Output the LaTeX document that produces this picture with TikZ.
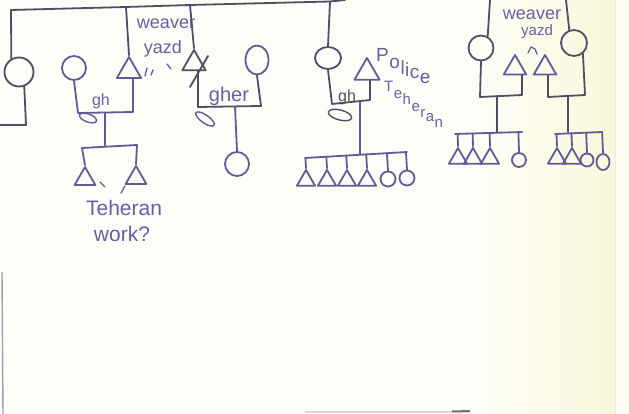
\documentclass[tikz,border=0pt]{standalone}
\usepackage{fontspec}
\setmainfont{Liberation Sans}
\usetikzlibrary{shapes.geometric,calc}
\definecolor{paper}{HTML}{FEFEF9}
\definecolor{paperY}{HTML}{FAF8DA}
\definecolor{paperR}{HTML}{FDFDF2}
\definecolor{inkg}{HTML}{4E4E66}
\definecolor{inkb}{HTML}{5D5C97}
\definecolor{txt}{HTML}{6362A0}
\begin{document}
\begin{tikzpicture}[x=1pt,y=-1pt,
  lg/.style={draw=inkg,line width=1.8pt,line join=round,line cap=round},
  lb/.style={draw=inkb,line width=1.8pt,line join=round,line cap=round},
  fem/.style={circle,inner sep=0pt,minimum size=#1},
  oval/.style 2 args={ellipse,inner sep=0pt,minimum width=#1,minimum height=#2},
  male/.style={regular polygon,regular polygon sides=3,inner sep=0pt,minimum size=#1},
  hand/.style={text=txt,inner sep=0pt},
  tick/.style={draw=inkb,line width=1.3pt,line cap=round}
]
\useasboundingbox (0,0) rectangle (629,414);
% paper
\fill[paper] (0,0) rectangle (629,414);
\shade[left color=paper,right color=paperY] (470,0) rectangle (615,414);
\fill[paperR] (615,0) rectangle (629,414);
\draw[black!8,line width=0.8pt] (615,0) -- (615,414);
\draw[inkg!55,line width=1.4pt] (2,272) -- (3,414);
\draw[black!15,line width=2pt] (305,412) -- (470,412);
\draw[black!55,line width=2pt] (452,411.5) -- (470,411);

% top line
\coordinate (tA) at (11,10);
\coordinate (tB) at (126,7);
\coordinate (tC) at (190,5);
\coordinate (tD) at (330,1.5);
\coordinate (tEnd) at (345,0);
\draw[lg] (tA) -- (tB) -- (tC) -- (tD) -- (tEnd);

% far left woman
\node[fem=29,lg] (L0) at (19,72) {};
\coordinate (l0b) at (26,125);
\coordinate (l0e) at (0,125);
\draw[lg] (tA) -- (L0.120);
\draw[lg] (L0.-70) -- (l0b) -- (l0e);

% weaver (yazd) and wife
\node[male=28,lb] (W1) at (129,71) {};
\draw[lg] (tB) -- (W1.corner 1);
\node[fem=24,lb] (F1) at (74,68) {};
\coordinate (m1L) at (78,113);
\coordinate (m1R) at (133,112);
\coordinate (m1D) at (105,112.5);
\draw[lb] (F1.south) -- (m1L) -- (m1R) -- (m1R |- W1.south);
\node[hand,font=\fontsize{16}{16}\selectfont] (gh1) at (101,101) {gh};
\draw[lb,line width=1.4pt,rotate around={-20:(88,118)}] (88,118) ellipse (9pt and 4pt);
\node[hand,font=\fontsize{18}{18}\selectfont] (wv1) at (166,24) {weaver};
\node[hand,font=\fontsize{18}{18}\selectfont] (yz1) at (163,49) {yazd};
\draw[tick] (147,68) -- (145,76);
\draw[tick] (153,70) -- (151,75);
\draw[tick] (167,64) -- (171,69);

% their children
\coordinate (s1D) at (105,146);
\draw[lb] (m1D) -- (s1D);
\coordinate (s1L) at (82,148);
\coordinate (s1R) at (137,145);
\draw[lb] (s1L) -- (s1R);
\node[male=24,lb] (C1) at (85,179) {};
\node[male=24,lb] (C2) at (136,178) {};
\draw[lb] (s1L) -- (C1.corner 1);
\draw[lb] (s1R) -- (C2.corner 1);
\draw[tick] (100,182) -- (105,187);
\draw[tick] (125,186) -- (121,193);
\node[hand,font=\fontsize{21}{21}\selectfont] (teh1) at (124,208) {Teheran};
\node[hand,font=\fontsize{21}{21}\selectfont] (work) at (122,234) {work?};

% crossed man and wife (gher)
\node[male=27,lg] (W2) at (194,63.5) {};
\draw[lg] (tC) -- (W2.corner 1);
\draw[lg] (190,87) -- (208,56);
\node[oval={23}{29},lb] (F2) at (257,60) {};
\coordinate (m2L) at (198,107);
\coordinate (m2R) at (261,106);
\coordinate (m2D) at (235,106.5);
\draw[lg] (W2.south -| m2L) -- (m2L) -- (m2R) -- (F2.south);
\node[hand,font=\fontsize{20}{20}\selectfont] (gher) at (229,96) {gher};
\draw[lb,line width=1.4pt,rotate around={-35:(205,119)}] (205,119) ellipse (11pt and 4pt);
\node[fem=24,lb] (F3) at (237,164) {};
\draw[lb] (m2D) -- (F3.north);

% police couple
\node[oval={26}{22},lg] (F4) at (328,58) {};
\draw[lg] (tD) -- (F4.north);
\node[male=29,lb] (P1) at (367,72.5) {};
\coordinate (m4L) at (332,104);
\coordinate (m4R) at (370,100);
\coordinate (m4D) at (360,101);
\draw[lg] (F4.south) -- (m4L) -- (m4R) -- (m4R |- P1.south);
\node[hand,font=\fontsize{16}{16}\selectfont,text=inkg] (gh2) at (347,97) {gh};
\draw[inkg,line width=1.4pt,rotate around={-15:(340,115)}] (340,115) ellipse (12pt and 5pt);
% slanted handwriting: upright letters on a sloping baseline
\foreach \c/\x/\y [count=\i] in {P/376/62, o/389.2/68.6, l/400.3/74.2, i/405/76.5, c/409.7/78.9, e/419.7/83.9}
  \node[hand,anchor=base west,font=\fontsize{19}{19}\selectfont] (pol\i) at (\x,\y) {\c};
\foreach \c/\x/\y [count=\i] in {T/384/92, e/393.7/98.8, h/402.5/105, e/411.3/111.1, r/420.1/117.3, a/425.6/121.2, n/434.4/127.3}
  \node[hand,anchor=base west,font=\fontsize{15}{15}\selectfont] (teh\i) at (\x,\y) {\c};
\coordinate (s4D) at (360,154);
\draw[lb] (m4D) -- (s4D);
\coordinate (s4L) at (305,158);
\coordinate (s4R) at (407,152);
\draw[lb] (s4L) -- (s4R);
\node[male=21,lb] (k1) at (306,180.5) {};
\node[male=21,lb] (k2) at (327,180.5) {};
\node[male=21,lb] (k3) at (347,180.5) {};
\node[male=21,lb] (k4) at (367,180.5) {};
\node[fem=15,lb] (k5) at (388,179) {};
\node[fem=15,lb] (k6) at (407,178) {};
\foreach \k in {k1,k2,k3,k4}
  \draw[lb] ($(s4L)!(\k.corner 1)!(s4R)$) -- (\k.corner 1);
\foreach \k in {k5,k6}
  \draw[lb] ($(s4L)!(\k.north)!(s4R)$) -- (\k.north);

% right: two weaver brothers of yazd and their wives
\coordinate (tE) at (490,0);
\coordinate (tF) at (566,0);
\node[fem=25,lg] (F5) at (481,48) {};
\node[fem=26,lg] (F6) at (574,43) {};
\draw[lg] (tE) -- (F5.60);
\draw[lg] (tF) -- (F6.110);
\node[male=26,lb] (R1) at (515,68) {};
\node[male=26,lb] (R2) at (545,68) {};
\node[hand,font=\fontsize{18}{18}\selectfont] (wv2) at (532,15) {weaver};
\node[hand,font=\fontsize{15}{15}\selectfont] (yz2) at (537,32) {yazd};
\draw[tick,line join=round] (528,53) -- (531,47) -- (535,49) -- (537,54);

\coordinate (m5L) at (480,97);
\coordinate (m5R) at (522,95);
\coordinate (m5D) at (497,96);
\draw[lg] (F5.south) -- (m5L) -- (m5R) -- (m5R |- R1.south);
\coordinate (s5D) at (497,132);
\draw[lg] (m5D) -- (s5D);
\coordinate (s5L) at (455,134);
\coordinate (s5R) at (522,132);
\draw[lb] (s5L) -- (s5R);
\node[male=21,lb] (a1) at (458,158.5) {};
\node[male=21,lb] (a2) at (473,158.5) {};
\node[male=21,lb] (a3) at (490,158.5) {};
\node[fem=14,lb] (a4) at (519,160) {};
\foreach \k in {a1,a2,a3}
  \draw[lb] ($(s5L)!(\k.corner 1)!(s5R)$) -- (\k.corner 1);
\draw[lb] ($(s5L)!(a4.north)!(s5R)$) -- (a4.north);

\coordinate (m6L) at (548,97);
\coordinate (m6R) at (585,95);
\coordinate (m6D) at (568,96);
\draw[lg] (m6L |- R2.south) -- (m6L) -- (m6R) -- (F6.-50);
\coordinate (s6D) at (568,132);
\draw[lg] (m6D) -- (s6D);
\coordinate (s6L) at (555,134);
\coordinate (s6R) at (602,132);
\draw[lb] (s6L) -- (s6R);
\node[male=21,lb] (b1) at (557,158.5) {};
\node[male=21,lb] (b2) at (572,158.5) {};
\node[fem=13,lb] (b3) at (587,160) {};
\node[oval={13}{16},lb] (b4) at (603,162) {};
\foreach \k in {b1,b2}
  \draw[lb] ($(s6L)!(\k.corner 1)!(s6R)$) -- (\k.corner 1);
\foreach \k in {b3,b4}
  \draw[lb] ($(s6L)!(\k.north)!(s6R)$) -- (\k.north);
\end{tikzpicture}
\end{document}
